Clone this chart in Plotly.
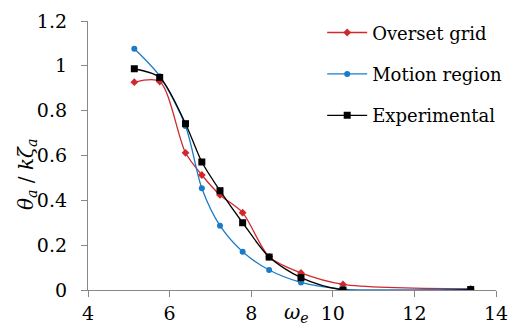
import plotly.graph_objects as go

omega = [5.135, 5.757, 6.39, 6.79, 7.235, 7.79, 8.44, 9.22, 10.25, 13.38]
overset = [0.927, 0.930, 0.612, 0.513, 0.424, 0.345, 0.148, 0.076, 0.025, 0.005]
motion = [1.076, 0.954, 0.732, 0.454, 0.287, 0.171, 0.089, 0.034, 0.004, 0.005]
experimental = [0.987, 0.948, 0.742, 0.571, 0.443, 0.300, 0.147, 0.055, 0.0, 0.002]

x_ticks = [4, 6, 8, 10, 12, 14]
y_ticks = [0, 0.2, 0.4, 0.6, 0.8, 1, 1.2]
y_tick_text = ["0", "0.2", "0.4", "0.6", "0.8", "1", "1.2"]

FONT = "DejaVu Serif"

fig = go.Figure()
series = [
    ("Overset grid", overset, "#d1282e", "diamond", 6),
    ("Motion region", motion, "#1b7bc7", "circle", 6),
    ("Experimental", experimental, "#000000", "square", 7),
]
for i, (name, ys, col, sym, sz) in enumerate(series):
    fig.add_trace(go.Scatter(
        x=omega, y=ys, name=name, mode="lines+markers",
        line=dict(color=col, width=1.3, shape="spline", smoothing=0.8),
        marker=dict(symbol=sym, size=sz, color=col),
        legendgroup=f"g{i}",
    ))

fig.update_layout(
    width=516, height=329,
    margin=dict(l=88, r=20, t=21, b=39, autoexpand=False),
    plot_bgcolor="white", paper_bgcolor="white",
    font=dict(family=FONT, size=18, color="black"),
    showlegend=True,
    legend=dict(x=0.574, y=1.025, xanchor="left", yanchor="top",
                bgcolor="rgba(0,0,0,0)", tracegroupgap=15,
                font=dict(family=FONT, size=18), itemwidth=40),
    xaxis=dict(range=[4, 14], tickvals=x_ticks, showgrid=False, zeroline=False,
               showline=True, linecolor="#888888", linewidth=1.3,
               ticks="outside", ticklen=6, tickcolor="#888888",
               tickfont=dict(family=FONT, size=19), automargin=False),
    yaxis=dict(range=[0, 1.2], tickvals=y_ticks, ticktext=y_tick_text,
               showgrid=False, zeroline=False,
               showline=True, linecolor="#888888", linewidth=1.3,
               ticks="outside", ticklen=6, tickcolor="#888888",
               ticklabelstandoff=10,
               tickfont=dict(family=FONT, size=19), automargin=False),
)

fig.add_annotation(
    text="<i>θ<sub>a</sub></i> / <i>kζ<sub>a</sub></i>",
    xref="paper", yref="paper", x=-0.148, y=0.43,
    xanchor="center", yanchor="middle", textangle=-90, showarrow=False,
    font=dict(family=FONT, size=20),
)
fig.add_annotation(
    text="<i>ω<sub>e</sub></i>",
    xref="x", yref="paper", x=9.1, y=-0.03,
    xanchor="center", yanchor="top", showarrow=False,
    font=dict(family=FONT, size=20),
)

fig.write_html("out.html")
